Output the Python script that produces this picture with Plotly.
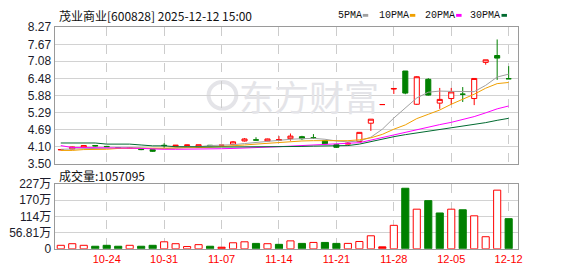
import plotly.graph_objects as go

# ---------------- data ----------------
dates = ['2025-10-20', '2025-10-21', '2025-10-22', '2025-10-23', '2025-10-24',
         '2025-10-27', '2025-10-28', '2025-10-29', '2025-10-30', '2025-10-31',
         '2025-11-03', '2025-11-04', '2025-11-05', '2025-11-06', '2025-11-07',
         '2025-11-10', '2025-11-11', '2025-11-12', '2025-11-13', '2025-11-14',
         '2025-11-17', '2025-11-18', '2025-11-19', '2025-11-20', '2025-11-21',
         '2025-11-24', '2025-11-25', '2025-11-26', '2025-11-27', '2025-11-28',
         '2025-12-01', '2025-12-02', '2025-12-03', '2025-12-04', '2025-12-05',
         '2025-12-08', '2025-12-09', '2025-12-10', '2025-12-11', '2025-12-12']
opens = [3.99, 4.02, 4.09, 4.14, 4.11, 4.07, 4.05, 4.03, 4.00, 4.15,
         4.12, 4.14, 4.08, 4.15, 4.15, 4.18, 4.30, 4.34, 4.30, 4.32,
         4.38, 4.45, 4.41, 4.31, 4.17, 4.19, 4.28, 4.92, 5.57, 6.11,
         6.74, 5.58, 6.45, 5.62, 5.78, 5.93, 5.78, 7.04, 7.28, 6.47]
highs = [4.01, 4.10, 4.15, 4.16, 4.13, 4.09, 4.08, 4.04, 4.01, 4.22,
         4.16, 4.17, 4.17, 4.16, 4.16, 4.30, 4.40, 4.43, 4.38, 4.47,
         4.56, 4.48, 4.54, 4.32, 4.18, 4.26, 4.60, 5.06, 5.57, 6.13,
         6.74, 6.56, 6.49, 6.15, 6.15, 6.18, 6.48, 7.13, 7.84, 6.91]
lows = [3.98, 4.01, 4.08, 4.11, 4.09, 4.05, 4.04, 3.98, 3.92, 4.06,
        4.10, 4.13, 4.07, 4.13, 4.13, 4.15, 4.28, 4.32, 4.29, 4.30,
        4.31, 4.34, 4.37, 4.18, 4.06, 4.18, 4.25, 4.65, 5.57, 5.94,
        5.93, 5.56, 5.88, 5.42, 5.57, 5.66, 5.55, 6.96, 6.43, 6.47]
closes = [4.00, 4.09, 4.14, 4.13, 4.10, 4.06, 4.07, 4.00, 3.94, 4.14,
          4.15, 4.16, 4.17, 4.14, 4.15, 4.27, 4.37, 4.33, 4.37, 4.35,
          4.47, 4.38, 4.40, 4.20, 4.08, 4.22, 4.60, 5.06, 5.57, 6.13,
          5.97, 6.54, 5.90, 5.75, 6.01, 5.93, 6.48, 7.13, 7.19, 6.47]
volumes = [12.2, 17.8, 12.2, 8.9, 12.2, 8.9, 12.2, 8.9, 12.2, 24.5,
           17.8, 7.8, 14.5, 8.9, 5.6, 21.1, 24.5, 18.9, 17.8, 15.6,
           27.8, 18.9, 22.3, 22.3, 18.9, 18.9, 25.6, 45.6, 6.7, 82.3,
           212.5, 139.0, 169.0, 125.7, 139.0, 136.9, 115.7, 42.3, 205.8, 105.71]  # 万股
ma5 = [4.01, 4.02, 4.03, 4.04, 4.06, 4.07, 4.07, 4.06, 4.03, 4.03,
       4.05, 4.07, 4.10, 4.14, 4.15, 4.17, 4.21, 4.25, 4.29, 4.32,
       4.36, 4.38, 4.39, 4.36, 4.30, 4.27, 4.30, 4.43, 4.71, 5.10,
       5.46, 5.80, 6.00, 6.04, 6.03, 6.03, 6.02, 6.24, 6.53, 6.63]
ma10 = [3.97, 3.97, 4.00, 4.00, 4.01, 4.04, 4.05, 4.05, 4.05, 4.05,
        4.05, 4.05, 4.07, 4.08, 4.10, 4.13, 4.16, 4.19, 4.22, 4.25,
        4.28, 4.30, 4.31, 4.31, 4.31, 4.31, 4.34, 4.41, 4.53, 4.71,
        4.86, 5.08, 5.23, 5.38, 5.58, 5.75, 5.93, 6.14, 6.30, 6.34]
ma20 = [4.14, 4.07, 4.07, 4.07, 4.07, 4.06, 4.05, 4.04, 4.02, 4.01,
        4.01, 4.01, 4.01, 4.02, 4.03, 4.04, 4.05, 4.06, 4.08, 4.10,
        4.12, 4.14, 4.16, 4.18, 4.19, 4.20, 4.24, 4.33, 4.42, 4.53,
        4.62, 4.70, 4.78, 4.87, 4.95, 5.05, 5.15, 5.28, 5.42, 5.52]
ma30 = [4.23, 4.23, 4.23, 4.23, 4.19, 4.19, 4.19, 4.16, 4.13, 4.13,
        4.10, 4.10, 4.09, 4.09, 4.09, 4.09, 4.09, 4.09, 4.09, 4.09,
        4.10, 4.11, 4.12, 4.12, 4.13, 4.14, 4.19, 4.28, 4.37, 4.45,
        4.52, 4.58, 4.63, 4.69, 4.74, 4.80, 4.87, 4.94, 5.02, 5.09]
label_dates = ['2025-10-24', '2025-10-31', '2025-11-07', '2025-11-14',
               '2025-11-21', '2025-11-28', '2025-12-05', '2025-12-12']
price_ticks = [3.50, 4.10, 4.69, 5.29, 5.88, 6.48, 7.08, 7.67, 8.27]
vol_ticks = [0, 56.81, 113.62, 170.43, 227.24]
vol_tick_text = ['0', '56.81万', '114万', '170万', '227万']
ma_names = ['5PMA', '10PMA', '20PMA', '30PMA']
title_text = '茂业商业[600828] 2025-12-12 15:00'
volume_label = '成交量:1057095'
watermark = '东方财富'

# ---------------- styles ----------------
W, H = 578, 276
RED = '#ff0000'
GREEN = '#008000'
MA_COLORS = ['#a0a0a0', '#f0a000', '#ff00ff', '#006a30']
GRID = '#d2d2d2'
FRAME = '#9a9a9a'
LEFT, RIGHT = 55, 522
MAIN_TOP, MAIN_BOT = 21.2, 165.3
VOL_TOP, VOL_BOT = 186.5, 254.7


def px(xp):
    return xp / W


def py(yp):
    return 1 - yp / H


n = len(dates)
xs = list(range(n))
pitch = (512.2 - 61.2) / (n - 1)
x_range = [-(61.2 - LEFT) / pitch, (n - 1) + (RIGHT - 512.2) / pitch]

# direction of candles
up = []
for i in range(n):
    if closes[i] > opens[i]:
        up.append(True)
    elif closes[i] < opens[i]:
        up.append(False)
    else:
        up.append(i == 0 or closes[i] >= closes[i - 1])

# volume colours (vs previous close)
vol_fill, vol_line = [], []
for i in range(n):
    vup = (closes[i] >= opens[i]) if i == 0 else (closes[i] >= closes[i - 1])
    if vup:
        vol_line.append(RED)
        vol_fill.append(RED if opens[i] == closes[i] else 'white')
    else:
        vol_line.append(GREEN)
        vol_fill.append(GREEN)

fig = go.Figure()

# moving averages
for name, vals, col in zip(ma_names, [ma5, ma10, ma20, ma30], MA_COLORS):
    fig.add_trace(go.Scatter(x=xs, y=vals, mode='lines', name=name,
                             line=dict(color=col, width=1),
                             hoverinfo='skip', xaxis='x', yaxis='y'))


def candle(idx, color, fill):
    return go.Candlestick(
        x=[xs[i] for i in idx],
        open=[opens[i] for i in idx], high=[highs[i] for i in idx],
        low=[lows[i] for i in idx], close=[closes[i] for i in idx],
        increasing=dict(line=dict(color=color, width=1), fillcolor=fill),
        decreasing=dict(line=dict(color=color, width=1), fillcolor=fill),
        whiskerwidth=0, hoverinfo='skip', xaxis='x', yaxis='y')


fig.add_trace(candle([i for i in range(n) if up[i]], RED, 'white'))
fig.add_trace(candle([i for i in range(n) if not up[i]], GREEN, GREEN))

fig.add_trace(go.Bar(x=xs, y=volumes, width=0.62,
                     marker=dict(color=vol_fill, line=dict(color=vol_line, width=1)),
                     hoverinfo='skip', xaxis='x2', yaxis='y2'))

tick_idx = [dates.index(d) for d in label_dates]
tick_txt = [d[5:] for d in label_dates]

common_x = dict(domain=[px(LEFT), px(RIGHT)], range=x_range, tickvals=tick_idx,
                showgrid=True, gridcolor='#cccccc', griddash='dash', gridwidth=1,
                showline=True, mirror=True, linecolor=FRAME, linewidth=1,
                zeroline=False, ticks='', fixedrange=True)
common_y = dict(showgrid=True, gridcolor=GRID, gridwidth=1, showline=True, mirror=True,
                linecolor=FRAME, linewidth=1, zeroline=False, ticks='',
                tickfont=dict(family='Liberation Sans, Noto Sans CJK SC', size=12, color='#1a1a2a'),
                fixedrange=True)

fig.update_layout(
    width=W, height=H, margin=dict(l=0, r=0, t=0, b=0),
    paper_bgcolor='white', plot_bgcolor='white', showlegend=False,
    boxgap=0.37, bargap=0.3,
    xaxis=dict(**common_x, anchor='y', showticklabels=False, rangeslider=dict(visible=False)),
    yaxis=dict(**common_y, domain=[py(MAIN_BOT), py(MAIN_TOP)], range=[price_ticks[0], price_ticks[-1]],
               tickvals=price_ticks, ticktext=['%.2f' % v for v in price_ticks], anchor='x'),
    xaxis2=dict(**common_x, anchor='y2', showticklabels=True, ticktext=tick_txt,
                tickfont=dict(family='Liberation Sans', size=11, color=RED)),
    yaxis2=dict(**common_y, domain=[py(VOL_BOT), py(VOL_TOP)], range=[vol_ticks[0], vol_ticks[-1]],
                tickvals=vol_ticks, ticktext=vol_tick_text, anchor='x2'),
)

annotations = []
# watermark
annotations.append(dict(x=px(311), y=py(93), xref='paper', yref='paper', text=watermark,
                        showarrow=False, xanchor='center', yanchor='middle',
                        font=dict(family='Noto Sans CJK SC', size=35, color='#e4e4e8')))
# title
annotations.append(dict(x=px(57), y=py(9), xref='paper', yref='paper', text=title_text,
                        showarrow=False, xanchor='left', yanchor='middle',
                        font=dict(family='Noto Sans CJK SC', size=12, color='#111111')))
# volume label
annotations.append(dict(x=px(57), y=py(178), xref='paper', yref='paper', text=volume_label,
                        showarrow=False, xanchor='left', yanchor='middle',
                        font=dict(family='Noto Sans CJK SC', size=12, color='#111111')))

# legend
legend_text_x = [338, 380, 425.5, 471.5]
legend_sq_x = [365.3, 412.7, 459.3, 505.0]
shapes = []
for name, col, tx, sx in zip(ma_names, MA_COLORS, legend_text_x, legend_sq_x):
    annotations.append(dict(x=px(tx), y=py(8.5), xref='paper', yref='paper', text=name,
                            showarrow=False, xanchor='left', yanchor='middle',
                            font=dict(family='Liberation Mono', size=10, color='#111111')))
    shapes.append(dict(type='rect', xref='paper', yref='paper',
                       x0=px(sx), x1=px(sx + 5.5), y0=py(10.3), y1=py(7.3),
                       fillcolor=col, line=dict(width=0)))

# watermark icon
shapes.append(dict(type='circle', xref='paper', yref='paper', layer='below',
                   x0=px(210), x1=px(238), y0=py(107), y1=py(79),
                   line=dict(color='#e4e4e8', width=4)))

fig.update_layout(annotations=annotations, shapes=shapes)

fig.write_html('out.html', config={'displayModeBar': False, 'staticPlot': True})
